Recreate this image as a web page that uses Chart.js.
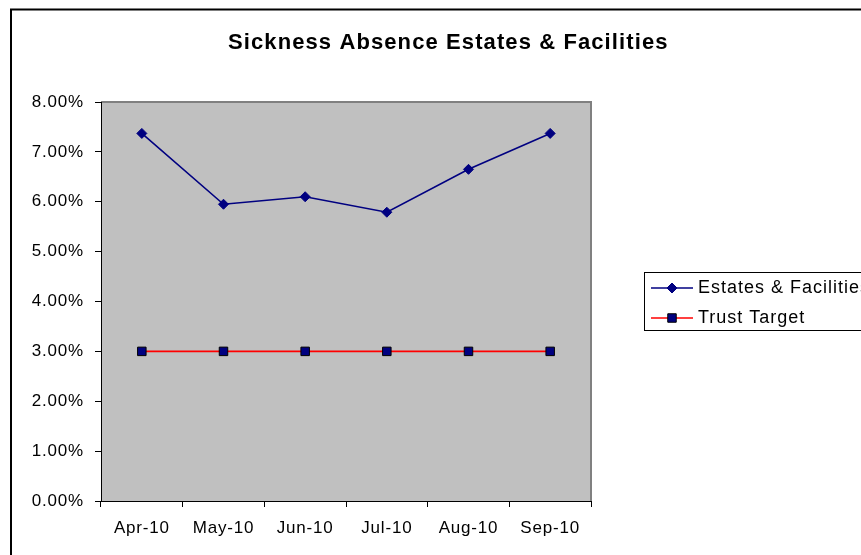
<!DOCTYPE html>
<html>
<head>
<meta charset="utf-8">
<title>Sickness Absence Estates & Facilities</title>
<script src="https://cdn.jsdelivr.net/npm/chart.js@4/dist/chart.umd.min.js"></script>
<style>
  body { margin: 0; background: #fff; }
  canvas { display: block; }
</style>
</head>
<body>
<canvas id="absenceChart" width="861" height="555"></canvas>
<script>
// Monthly sickness absence (%) against the trust target
const months = ['Apr-10', 'May-10', 'Jun-10', 'Jul-10', 'Aug-10', 'Sep-10'];
const estatesRate = [7.37, 5.95, 6.10, 5.79, 6.65, 7.37];
const trustTarget = [3.00, 3.00, 3.00, 3.00, 3.00, 3.00];
const seriesNames = ['Estates & Facilities', 'Trust Target'];
const chartTitle = 'Sickness Absence Estates & Facilities';

const FONT = '"Liberation Sans", Arial, sans-serif';
const SPACING = '0.8px';   // the wide Excel-style text

// grey plot background with the darker edge on top and right
const plotBackground = {
    id: 'plotBackground',
    beforeDraw(chart) {
        const { ctx, chartArea: a } = chart;
        ctx.letterSpacing = SPACING;
        ctx.save();
        ctx.fillStyle = '#C0C0C0';
        ctx.fillRect(a.left, a.top, a.right - a.left, a.bottom - a.top);
        ctx.strokeStyle = '#808080';
        ctx.lineWidth = 2;
        ctx.beginPath();
        ctx.moveTo(a.left, a.top);
        ctx.lineTo(a.right, a.top);
        ctx.lineTo(a.right, a.bottom);
        ctx.stroke();
        ctx.restore();
    }
};

// outer frame, title and boxed legend
const decorations = {
    id: 'decorations',
    afterDraw(chart) {
        const ctx = chart.ctx;
        ctx.save();

        ctx.strokeStyle = '#000';
        ctx.lineWidth = 2;
        ctx.strokeRect(11, 9.5, 900, 600);

        ctx.fillStyle = '#000';
        ctx.font = 'bold 22px ' + FONT;
        ctx.letterSpacing = '1.1px';
        ctx.textAlign = 'left';
        ctx.textBaseline = 'middle';
        ctx.fillText(chartTitle, 228, 43);

        ctx.letterSpacing = '1px';
        ctx.lineWidth = 1;
        ctx.strokeRect(644.5, 272.5, 300, 58);

        const rows = [288, 318];
        chart.data.datasets.forEach((ds, i) => {
            const y = rows[i];
            ctx.strokeStyle = ds.borderColor;
            ctx.lineWidth = ds.borderWidth;
            ctx.beginPath();
            ctx.moveTo(651, y);
            ctx.lineTo(693, y);
            ctx.stroke();
            ctx.fillStyle = ds.pointBackgroundColor;
            ctx.strokeStyle = ds.pointBorderColor;
            ctx.lineWidth = ds.pointBorderWidth;
            Chart.helpers.drawPoint(ctx, {
                pointStyle: ds.pointStyle,
                radius: ds.pointRadius,
                borderWidth: ds.pointBorderWidth,
                rotation: 0
            }, 672, y);
            ctx.fillStyle = '#000';
            ctx.font = '18px ' + FONT;
            ctx.textAlign = 'left';
            ctx.textBaseline = 'middle';
            ctx.fillText(ds.label, 698, y);
        });
        ctx.restore();
        ctx.letterSpacing = '0px';
    }
};

const ctx = document.getElementById('absenceChart').getContext('2d');
new Chart(ctx, {
    type: 'line',
    data: {
        labels: months,
        datasets: [{
            label: seriesNames[0],
            data: estatesRate,
            borderColor: '#000080',
            borderWidth: 1.6,
            pointStyle: 'rectRot',
            pointRadius: 5,
            pointBackgroundColor: '#000080',
            pointBorderColor: '#000080',
            pointBorderWidth: 1,
            tension: 0,
            fill: false
        }, {
            label: seriesNames[1],
            data: trustTarget,
            borderColor: '#FF0000',
            borderWidth: 1.6,
            pointStyle: 'rect',
            pointRadius: 6,
            pointBackgroundColor: '#000080',
            pointBorderColor: '#000000',
            pointBorderWidth: 1,
            tension: 0,
            fill: false
        }]
    },
    options: {
        responsive: false,
        animation: false,
        layout: { padding: { left: 0, top: 102, right: 270, bottom: 0 } },
        plugins: {
            legend: { display: false },
            title: { display: false },
            tooltip: { enabled: false }
        },
        scales: {
            x: {
                offset: true,
                grid: {
                    offset: true,
                    drawOnChartArea: false,
                    drawTicks: true,
                    tickLength: 6,
                    color: '#000'
                },
                border: { display: true, color: '#000', width: 1 },
                ticks: {
                    color: '#000',
                    font: { family: FONT, size: 17 },
                    padding: 11,
                    maxRotation: 0,
                    autoSkip: false
                },
                afterFit(scale) { scale.height = 54; }
            },
            y: {
                min: 0,
                max: 8,
                grid: {
                    drawOnChartArea: false,
                    drawTicks: true,
                    tickLength: 6,
                    color: '#000'
                },
                border: { display: true, color: '#000', width: 1 },
                ticks: {
                    stepSize: 1,
                    color: '#000',
                    font: { family: FONT, size: 17 },
                    padding: 11,
                    callback: v => v.toFixed(2) + '%'
                },
                afterFit(scale) { scale.width = 101; }
            }
        }
    },
    plugins: [plotBackground, decorations]
});
</script>
</body>
</html>
